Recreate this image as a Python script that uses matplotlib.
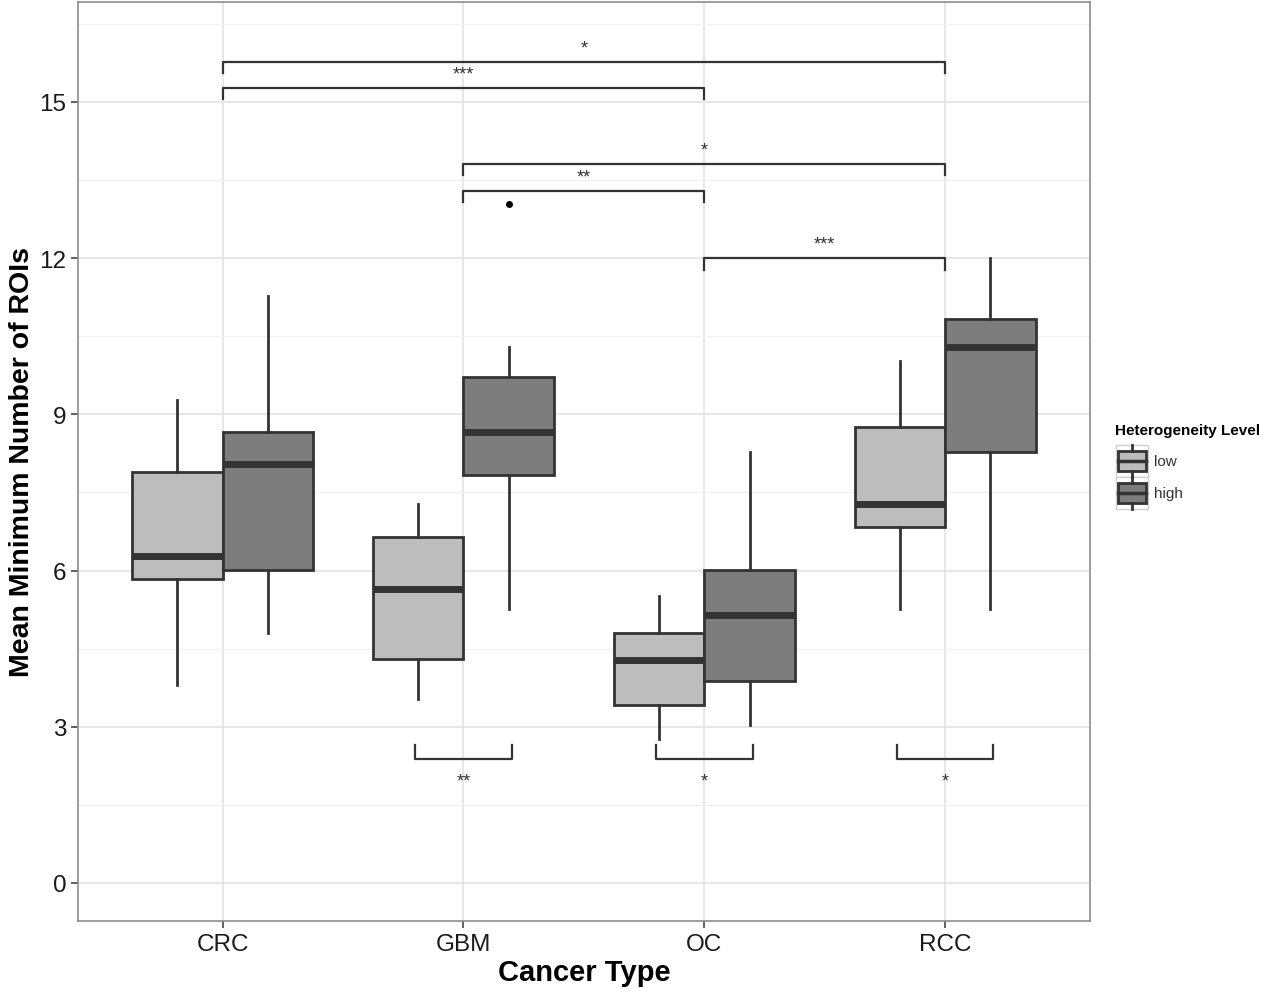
import matplotlib
matplotlib.use('Agg')
import matplotlib.pyplot as plt
from matplotlib.patches import Rectangle
from matplotlib.lines import Line2D
from matplotlib.ticker import MultipleLocator

plt.rcParams['font.family'] = ['Liberation Sans', 'DejaVu Sans']

# data
cancer = ['CRC', 'GBM', 'OC', 'RCC']
levels = ['low', 'high']
# [whislo, q1, med, q3, whishi] per cancer type
low_stats = [[3.80, 5.84, 6.28, 7.89, 9.28],
             [3.53, 4.30, 5.65, 6.64, 7.28],
             [2.77, 3.42, 4.28, 4.80, 5.51],
             [5.26, 6.84, 7.28, 8.76, 10.02]]
high_stats = [[4.80, 6.01, 8.05, 8.66, 11.27],
              [5.26, 7.84, 8.66, 9.72, 10.29],
              [3.03, 3.88, 5.15, 6.01, 8.28],
              [5.26, 8.28, 10.29, 10.83, 12.00]]
high_outliers = [[], [13.04], [], []]
low_outliers = [[], [], [], []]

# comparisons between cancer types (high group): (from, to, y, label)
between = [('CRC', 'RCC', 15.77, '*'),
           ('CRC', 'OC', 15.27, '***'),
           ('GBM', 'RCC', 13.81, '*'),
           ('GBM', 'OC', 13.29, '**'),
           ('OC', 'RCC', 12.00, '***')]
# comparisons low vs high within cancer type
within = [('GBM', '**'), ('OC', '*'), ('RCC', '*')]

fills = {'low': '#bdbdbd', 'high': '#7d7d7d'}
edge = '#333333'

fig = plt.figure(figsize=(12.76, 9.95), dpi=100)
ax = fig.add_axes([0.0611, 0.0734, 0.7930, 0.9236])

def to_bxp(s, fl):
    return dict(whislo=s[0], q1=s[1], med=s[2], q3=s[3], whishi=s[4], fliers=fl)

pos = {c: i + 1 for i, c in enumerate(cancer)}
w = 0.375
for lev, stats, outs, off in [('low', low_stats, low_outliers, -w / 2),
                              ('high', high_stats, high_outliers, w / 2)]:
    ax.bxp([to_bxp(s, o) for s, o in zip(stats, outs)],
           positions=[pos[c] + off for c in cancer], widths=w,
           patch_artist=True, showcaps=False, manage_ticks=False,
           boxprops=dict(facecolor=fills[lev], edgecolor=edge, linewidth=2),
           whiskerprops=dict(color=edge, linewidth=2),
           medianprops=dict(color=edge, linewidth=5, solid_capstyle='butt'),
           flierprops=dict(marker='o', markerfacecolor='black', markeredgecolor='black',
                           markersize=4), zorder=3)

# significance brackets between cancer types
for a, b, y, lab in between:
    xa, xb = pos[a], pos[b]
    ax.plot([xa, xa, xb, xb], [y - 0.22, y, y, y - 0.22], color=edge, lw=1.6, zorder=4)
    ax.text((xa + xb) / 2, y + 0.1, lab, ha='center', va='bottom', fontsize=13, color='#333333')

# brackets within cancer type
for c, lab in within:
    x = pos[c]
    ax.plot([x - 0.2, x - 0.2, x + 0.2, x + 0.2], [2.65, 2.38, 2.38, 2.65], color=edge, lw=1.6, zorder=4)
    ax.text(x, 1.95, lab, ha='center', va='center', fontsize=13, color='#333333')

ax.set_xlim(0.4, 4.6)
ax.set_ylim(-0.73, 16.92)
ax.set_xticks(range(1, 5))
ax.set_xticklabels(cancer)
ax.yaxis.set_major_locator(MultipleLocator(3))
ax.yaxis.set_minor_locator(MultipleLocator(1.5))
ax.grid(True, which='major', color='#e3e3e3', lw=1.2, zorder=0)
ax.grid(True, which='minor', axis='y', color='#f0f0f0', lw=0.8, zorder=0)
ax.set_axisbelow(True)
for sp in ax.spines.values():
    sp.set_color('#8c8c8c')
    sp.set_linewidth(1.2)
ax.tick_params(axis='both', which='major', labelsize=17.5, color='#444444', length=5, width=1.2,
               labelcolor='#1a1a1a')
ax.tick_params(axis='y', which='minor', length=0)
ax.set_xlabel('Cancer Type', fontsize=21, fontweight='bold', labelpad=2)
ax.set_ylabel('Mean Minimum Number of ROIs', fontsize=20.5, fontweight='bold', labelpad=3)

# legend drawn by hand in figure coordinates
W, H = 1276.0, 995.0
fig.text(1115 / W, 1 - 431 / H, 'Heterogeneity Level', fontsize=11, fontweight='bold',
         ha='left', va='center')
for i, lev in enumerate(levels):
    top = 446 + i * 32
    fig.add_artist(Rectangle((1116 / W, 1 - (top + 32) / H), 32 / W, 32 / H,
                             facecolor='white', edgecolor='#d0d0d0', lw=1,
                             transform=fig.transFigure))
    fig.add_artist(Rectangle((1118 / W, 1 - (top + 26) / H), 28 / W, 20 / H,
                             facecolor=fills[lev], edgecolor=edge, lw=2,
                             transform=fig.transFigure))
    cy = 1 - (top + 16) / H
    fig.add_artist(Line2D([1118 / W, 1146 / W], [cy, cy], color=edge, lw=2.5,
                          transform=fig.transFigure))
    fig.add_artist(Line2D([1132 / W, 1132 / W], [1 - top / H, 1 - (top + 6) / H],
                          color=edge, lw=2, transform=fig.transFigure))
    fig.add_artist(Line2D([1132 / W, 1132 / W], [1 - (top + 26) / H, 1 - (top + 32) / H],
                          color=edge, lw=2, transform=fig.transFigure))
    fig.text(1154 / W, cy, lev, fontsize=11, ha='left', va='center', color='#333333')

fig.savefig('out.png', dpi=100)
